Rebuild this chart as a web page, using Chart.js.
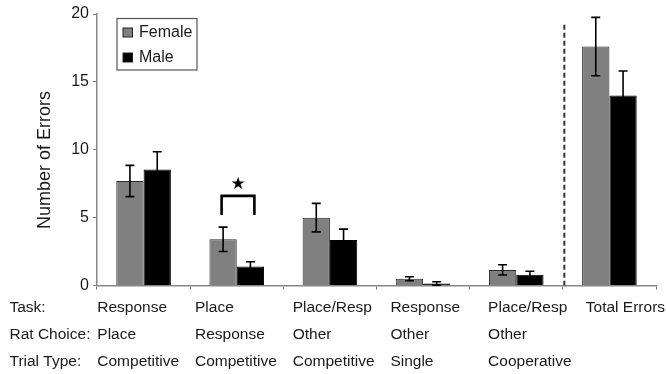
<!DOCTYPE html>
<html>
<head>
<meta charset="utf-8">
<script src="https://cdn.jsdelivr.net/npm/chart.js@4"></script>
<style>
  html, body { margin: 0; padding: 0; background: #fff; }
  #wrap { width: 666px; height: 374px; }
</style>
</head>
<body>
<div id="wrap"><canvas id="c" width="666" height="374"></canvas></div>
<script>
// Error counts per trial category (mean ± SEM)
const taskLabels = ['Response', 'Place', 'Place/Resp', 'Response', 'Place/Resp', 'Total Errors'];
const ratChoiceLabels = ['Place', 'Response', 'Other', 'Other', 'Other', ''];
const trialTypeLabels = ['Competitive', 'Competitive', 'Competitive', 'Single', 'Cooperative', ''];
const rowHeaders = ['Task:', 'Rat Choice:', 'Trial Type:'];

const femaleMeans = [7.7, 3.4, 5.0, 0.5, 1.15, 17.6];
const femaleErr = [1.15, 0.9, 1.05, 0.15, 0.38, 2.15];
const maleMeans = [8.55, 1.4, 3.35, 0.15, 0.8, 14.0];
const maleErr = [1.3, 0.35, 0.8, 0.13, 0.25, 1.8];

const yTicks = [0, 5, 10, 15, 20];
const yTitle = 'Number of Errors';

// significance marker between the two Place-task bars
const sigCategory = 1;
const sigBracketTop = 6.6;
const sigBracketLeg = 5.2;
const sigStarAt = 7.4;
// separator before the totals column
const separatorTop = 19.2;

const FONT = '"Liberation Sans", Arial, Helvetica, sans-serif';
const TEXT = '#1a1a1a';

const errorBars = {
  id: 'errorBars',
  afterDatasetsDraw(chart) {
    const ctx = chart.ctx;
    const y = chart.scales.y;
    const errs = [femaleErr, maleErr];
    ctx.save();
    ctx.strokeStyle = '#000';
    ctx.lineWidth = 1.6;
    chart.data.datasets.forEach((ds, di) => {
      const meta = chart.getDatasetMeta(di);
      meta.data.forEach((bar, i) => {
        const v = ds.data[i], e = errs[di][i];
        const top = y.getPixelForValue(v + e);
        const bot = y.getPixelForValue(Math.max(0, v - e));
        const cap = 4.5;
        ctx.beginPath();
        ctx.moveTo(bar.x, top); ctx.lineTo(bar.x, bot);
        ctx.moveTo(bar.x - cap, top); ctx.lineTo(bar.x + cap, top);
        ctx.moveTo(bar.x - cap, bot); ctx.lineTo(bar.x + cap, bot);
        ctx.stroke();
      });
    });
    ctx.restore();
  }
};

const annotations = {
  id: 'annotations',
  afterDraw(chart) {
    const ctx = chart.ctx;
    const x = chart.scales.x, y = chart.scales.y;
    const area = chart.chartArea;
    ctx.save();

    // significance bracket + star
    const fBar = chart.getDatasetMeta(0).data[sigCategory];
    const mBar = chart.getDatasetMeta(1).data[sigCategory];
    const bl = fBar.x - 1.5, br = mBar.x + 4;
    const bt = y.getPixelForValue(sigBracketTop), bb = y.getPixelForValue(sigBracketLeg);
    ctx.strokeStyle = '#000';
    ctx.lineWidth = 2.6;
    ctx.lineJoin = 'miter';
    ctx.beginPath();
    ctx.moveTo(bl, bb); ctx.lineTo(bl, bt); ctx.lineTo(br, bt); ctx.lineTo(br, bb);
    ctx.stroke();
    ctx.fillStyle = '#000';
    ctx.font = '17px "DejaVu Sans", sans-serif';
    ctx.textAlign = 'center';
    ctx.textBaseline = 'middle';
    ctx.fillText('\u2605', (bl + br) / 2, y.getPixelForValue(sigStarAt));

    // dashed separator before the totals
    const sx = (x.getPixelForValue(4) + x.getPixelForValue(5)) / 2 + 1.5;
    ctx.strokeStyle = '#333';
    ctx.lineWidth = 2;
    ctx.setLineDash([5, 3]);
    ctx.beginPath();
    ctx.moveTo(sx, y.getPixelForValue(separatorTop));
    ctx.lineTo(sx, y.getPixelForValue(0));
    ctx.stroke();
    ctx.setLineDash([]);

    // legend
    const lx = area.left + 20, ly = 18.5, lw = 80, lh = 51.5;
    ctx.strokeStyle = '#555';
    ctx.lineWidth = 1.2;
    ctx.strokeRect(lx, ly, lw, lh);
    chart.data.datasets.forEach((ds, i) => {
      const cy = ly + 14 + i * 25;
      ctx.fillStyle = ds.backgroundColor;
      ctx.fillRect(lx + 6, cy - 4.5, 9.5, 9);
      ctx.strokeStyle = '#222';
      ctx.lineWidth = 1;
      ctx.strokeRect(lx + 6, cy - 4.5, 9.5, 9);
      ctx.fillStyle = TEXT;
      ctx.font = '16px ' + FONT;
      ctx.textAlign = 'left';
      ctx.textBaseline = 'middle';
      ctx.fillText(ds.label, lx + 22, cy + 0.5);
    });

    // y axis title
    ctx.save();
    ctx.translate(45.5, 160);
    ctx.rotate(-Math.PI / 2);
    ctx.font = '18px ' + FONT;
    ctx.fillStyle = TEXT;
    ctx.textAlign = 'center';
    ctx.textBaseline = 'middle';
    ctx.fillText(yTitle, 0, 0);
    ctx.restore();

    // category table under the axis
    const rows = [taskLabels, ratChoiceLabels, trialTypeLabels];
    const colW = 97.7;
    const baselines = [311.7, 339, 366.3];
    ctx.font = '15.5px ' + FONT;
    ctx.fillStyle = TEXT;
    ctx.textAlign = 'left';
    ctx.textBaseline = 'alphabetic';
    rows.forEach((row, r) => {
      ctx.fillText(rowHeaders[r], 9.5, baselines[r]);
      row.forEach((t, i) => {
        if (t) ctx.fillText(t, area.left + 0.3 + i * colW, baselines[r]);
      });
    });
    ctx.restore();
  }
};

new Chart(document.getElementById('c'), {
  type: 'bar',
  data: {
    labels: taskLabels,
    datasets: [
      { label: 'Female', data: femaleMeans, backgroundColor: '#808080', borderColor: '#2a2a2a', borderWidth: 1, borderSkipped: 'bottom' },
      { label: 'Male', data: maleMeans, backgroundColor: '#000000', borderColor: '#000000', borderWidth: 1, borderSkipped: 'bottom' }
    ]
  },
  options: {
    responsive: false,
    devicePixelRatio: 1,
    animation: false,
    layout: { padding: { left: 0, right: 10, top: 14, bottom: 0 } },
    datasets: { bar: { categoryPercentage: 0.586, barPercentage: 1.0 } },
    plugins: { legend: { display: false }, tooltip: { enabled: false } },
    scales: {
      x: {
        grid: { display: true, drawOnChartArea: false, drawTicks: true, tickLength: 4, color: '#777', lineWidth: 1 },
        border: { display: true, color: '#888', width: 1.5 },
        ticks: { display: false },
        afterFit(scale) { scale.height = 88.5; }
      },
      y: {
        min: 0, max: 20,
        afterBuildTicks(scale) { scale.ticks = yTicks.map(v => ({ value: v })); },
        grid: { display: true, drawOnChartArea: false, drawTicks: true, tickLength: 4, color: '#777', lineWidth: 1 },
        border: { display: true, color: '#888', width: 1.5 },
        ticks: { color: TEXT, padding: 4, font: { family: FONT, size: 16 } },
        afterFit(scale) { scale.width = 97; }
      }
    }
  },
  plugins: [errorBars, annotations]
});
</script>
</body>
</html>
